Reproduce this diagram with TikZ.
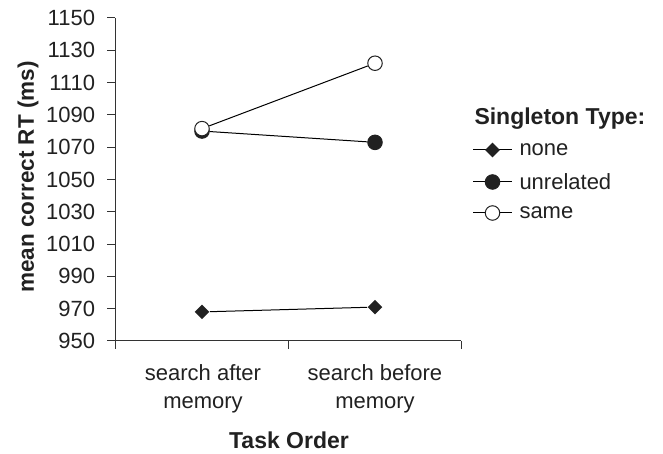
\documentclass[tikz,border=0pt]{standalone}
\usepackage{fontspec}
\setmainfont{Liberation Sans}
\usetikzlibrary{shapes.geometric,positioning,calc}

\begin{document}
\begin{tikzpicture}[x=1pt, y=1pt, line width=1pt,
    every node/.style={font=\fontsize{22}{28}\selectfont, text=black!87},
    hd/.style={font=\fontsize{23}{28}\selectfont\bfseries},
    dmd/.style={diamond, fill=black!87, inner sep=0pt, minimum size=15pt},
    dot/.style={circle, draw=black!87, fill=black!87, inner sep=0pt, minimum size=14.5pt},
    ring/.style={circle, draw=black!87, fill=white, inner sep=0pt, minimum size=14.5pt}]
  \useasboundingbox (0,0) rectangle (663,454);

  % plot area, y in ms above 950
  \begin{scope}[yshift=113pt, y=1.615pt]
    \coordinate (o) at (115,0);
    \coordinate (ytop) at (115,200);
    \coordinate (xend) at (461,0);
    \draw[black!80] (o) -- (ytop);
    \draw[black!80] ([xshift=-8pt]o) -- (xend);
    \foreach \ms in {950,970,...,1150} {
      \draw[black!80] (115,{\ms-950}) -- (107,{\ms-950});
      \node[anchor=east, inner sep=0pt] at (95.5,{\ms-950}) {\ms};
    }
    \foreach \tx in {115,288,461}
      \draw[black!80] (\tx,0) -- ++(0,-8pt);

    \node[dmd] (none1) at (202,18) {};
    \node[dmd] (none2) at (375,21) {};
    \draw (none1) -- (none2);

    \node[dot] (unrel1) at (202,130) {};
    \node[dot] (unrel2) at (375,123) {};
    \draw (unrel1) -- (unrel2);

    \node[ring] (same1) at (202,131.5) {};
    \node[ring] (same2) at (375,172) {};
    \draw (same1) -- (same2);
  \end{scope}

  % axis titles
  \node[align=center] (cat1) at (203,65) {search after\\memory};
  \node[align=center] (cat2) at (375,65) {search before\\memory};
  \node[hd] (xlab) at (289,14) {Task Order};
  \node[hd, rotate=90, font=\fontsize{22.5}{28}\selectfont\bfseries] (ylab) at (28,277) {mean correct RT (ms)};

  % legend
  \node[hd, anchor=west, inner sep=0pt] (ttl) at (474,335) {Singleton Type:};
  \coordinate (k1a) at (473,304);
  \coordinate[right=39pt of k1a] (k1b);
  \coordinate (k2a) at (473,272);
  \coordinate[right=39pt of k2a] (k2b);
  \coordinate (k3a) at (473,241);
  \coordinate[right=39pt of k3a] (k3b);
  \draw (k1a) -- (k1b);
  \draw (k2a) -- (k2b);
  \draw (k3a) -- (k3b);
  \node[dmd] (m1) at ($(k1a)!0.5!(k1b)$) {};
  \node[dot] (m2) at ($(k2a)!0.5!(k2b)$) {};
  \node[ring] (m3) at ($(k3a)!0.5!(k3b)$) {};
  \node[anchor=west, inner sep=0pt, right=7pt of k1b] (t1) {none};
  \node[anchor=west, inner sep=0pt, right=7pt of k2b] (t2) {unrelated};
  \node[anchor=west, inner sep=0pt, right=7pt of k3b] (t3) {same};
\end{tikzpicture}
\end{document}
